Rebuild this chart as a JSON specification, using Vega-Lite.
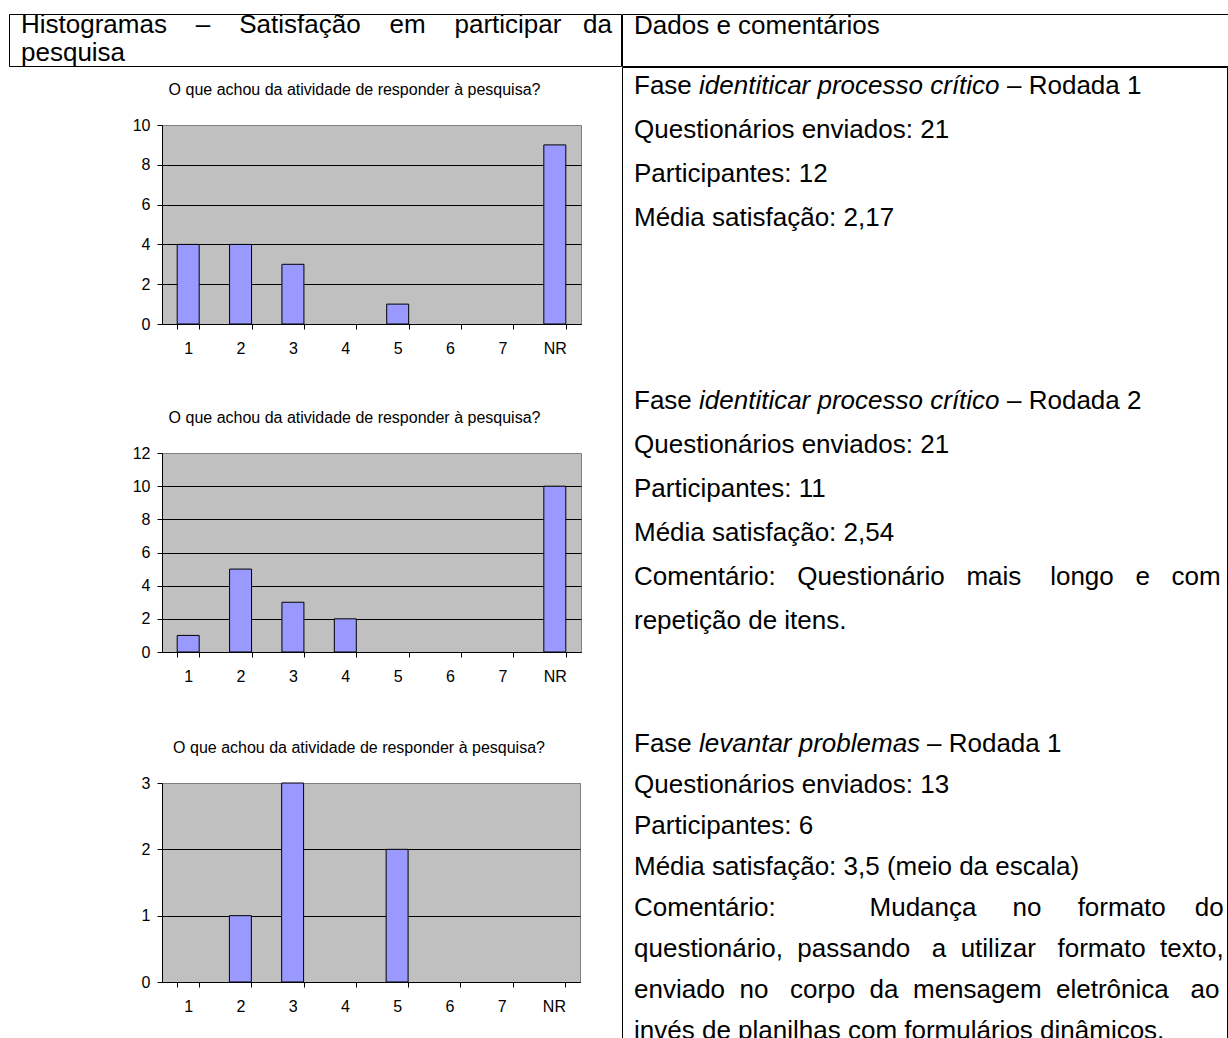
{
  "$schema": "https://vega.github.io/schema/vega-lite/v6.json",
  "padding": {"left": 8, "top": 13, "right": 0, "bottom": 0},
  "background": "white",
  "spacing": -1,
  "config": {
    "view": {"stroke": null},
    "font": "Liberation Sans",
    "title": {"font": "Liberation Sans", "fontWeight": "normal", "color": "black", "fontSize": 16},
    "axis": {"labelFont": "Liberation Sans", "labelColor": "black", "labelFontSize": 16, "domainColor": "black", "tickColor": "black", "tickSize": 5}
  },
  "datasets": {
    "histogramas": [
      {"grafico": 1, "resposta": "1", "frequencia": 4},
      {"grafico": 1, "resposta": "2", "frequencia": 4},
      {"grafico": 1, "resposta": "3", "frequencia": 3},
      {"grafico": 1, "resposta": "4", "frequencia": 0},
      {"grafico": 1, "resposta": "5", "frequencia": 1},
      {"grafico": 1, "resposta": "6", "frequencia": 0},
      {"grafico": 1, "resposta": "7", "frequencia": 0},
      {"grafico": 1, "resposta": "NR", "frequencia": 9},
      {"grafico": 2, "resposta": "1", "frequencia": 1},
      {"grafico": 2, "resposta": "2", "frequencia": 5},
      {"grafico": 2, "resposta": "3", "frequencia": 3},
      {"grafico": 2, "resposta": "4", "frequencia": 2},
      {"grafico": 2, "resposta": "5", "frequencia": 0},
      {"grafico": 2, "resposta": "6", "frequencia": 0},
      {"grafico": 2, "resposta": "7", "frequencia": 0},
      {"grafico": 2, "resposta": "NR", "frequencia": 10},
      {"grafico": 3, "resposta": "1", "frequencia": 0},
      {"grafico": 3, "resposta": "2", "frequencia": 1},
      {"grafico": 3, "resposta": "3", "frequencia": 3},
      {"grafico": 3, "resposta": "4", "frequencia": 0},
      {"grafico": 3, "resposta": "5", "frequencia": 2},
      {"grafico": 3, "resposta": "6", "frequencia": 0},
      {"grafico": 3, "resposta": "7", "frequencia": 0},
      {"grafico": 3, "resposta": "NR", "frequencia": 0}
    ],
    "comentarios": [
      {"linha": 1, "secao": 1, "parte": "texto", "texto": "Fase"},
      {"linha": 1, "secao": 1, "parte": "fase", "texto": "identiticar processo crítico"},
      {"linha": 1, "secao": 1, "parte": "rodada", "texto": "– Rodada 1"},
      {"linha": 2, "secao": 1, "parte": "texto", "texto": "Questionários enviados: 21"},
      {"linha": 3, "secao": 1, "parte": "texto", "texto": "Participantes: 12"},
      {"linha": 4, "secao": 1, "parte": "texto", "texto": "Média satisfação: 2,17"},
      {"linha": 8, "secao": 2, "parte": "texto", "texto": "Fase"},
      {"linha": 8, "secao": 2, "parte": "fase", "texto": "identiticar processo crítico"},
      {"linha": 8, "secao": 2, "parte": "rodada", "texto": "– Rodada 2"},
      {"linha": 9, "secao": 2, "parte": "texto", "texto": "Questionários enviados: 21"},
      {"linha": 10, "secao": 2, "parte": "texto", "texto": "Participantes: 11"},
      {"linha": 11, "secao": 2, "parte": "texto", "texto": "Média satisfação: 2,54"},
      {"linha": 12, "secao": 2, "parte": "texto", "texto": "Comentário:\u00a0\u00a0\u00a0Questionário\u00a0\u00a0\u00a0mais\u00a0\u00a0\u00a0\u00a0longo\u00a0\u00a0\u00a0e\u00a0\u00a0\u00a0com"},
      {"linha": 13, "secao": 2, "parte": "texto", "texto": "repetição de itens."},
      {"linha": 16, "secao": 3, "parte": "texto", "texto": "Fase"},
      {"linha": 16, "secao": 3, "parte": "fase", "texto": "levantar problemas"},
      {"linha": 16, "secao": 3, "parte": "rodada", "texto": "– Rodada 1"},
      {"linha": 17, "secao": 3, "parte": "texto", "texto": "Questionários enviados: 13"},
      {"linha": 18, "secao": 3, "parte": "texto", "texto": "Participantes: 6"},
      {"linha": 19, "secao": 3, "parte": "texto", "texto": "Média satisfação: 3,5 (meio da escala)"},
      {"linha": 20, "secao": 3, "parte": "texto", "texto": "Comentário:\u00a0\u00a0\u00a0\u00a0\u00a0\u00a0\u00a0\u00a0\u00a0\u00a0\u00a0\u00a0\u00a0Mudança\u00a0\u00a0\u00a0\u00a0\u00a0no\u00a0\u00a0\u00a0\u00a0\u00a0formato\u00a0\u00a0\u00a0\u00a0do"},
      {"linha": 21, "secao": 3, "parte": "texto", "texto": "questionário,\u00a0\u00a0passando\u00a0\u00a0\u00a0a\u00a0\u00a0utilizar\u00a0\u00a0\u00a0formato\u00a0\u00a0texto,"},
      {"linha": 22, "secao": 3, "parte": "texto", "texto": "enviado\u00a0\u00a0no\u00a0\u00a0\u00a0corpo\u00a0\u00a0da\u00a0\u00a0mensagem\u00a0\u00a0eletrônica\u00a0\u00a0\u00a0ao"},
      {"linha": 23, "secao": 3, "parte": "texto", "texto": "invés de planilhas com formulários dinâmicos."}
    ]
  },
  "vconcat": [
    {
      "spacing": -1,
      "hconcat": [
        {
          "width": 612,
          "height": 52,
          "view": {"stroke": "black", "strokeWidth": 1},
          "data": {"values": [{"texto": "Histogramas\u00a0\u00a0\u00a0\u00a0–\u00a0\u00a0\u00a0\u00a0Satisfação\u00a0\u00a0\u00a0\u00a0em\u00a0\u00a0\u00a0\u00a0participar\u00a0\u00a0\u00a0da\npesquisa"}]},
          "mark": {"type": "text", "align": "left", "baseline": "top", "x": 0, "y": 0, "dx": 12, "dy": -2, "fontSize": 26, "lineBreak": "\n", "lineHeight": 28, "color": "black", "clip": true},
          "encoding": {"text": {"field": "texto"}}
        },
        {
          "width": 607,
          "height": 52,
          "view": {"stroke": "black", "strokeWidth": 1},
          "data": {"values": [{"texto": "Dados e comentários"}]},
          "mark": {"type": "text", "align": "left", "baseline": "top", "x": 0, "y": 0, "dx": 12, "dy": -1, "fontSize": 26, "color": "black", "clip": true},
          "encoding": {"text": {"field": "texto"}}
        }
      ]
    },
    {
      "spacing": 0,
      "hconcat": [
        {"width": 122, "height": 10, "data": {"values": []}, "mark": "point"},
        {
          "spacing": 0,
          "vconcat": [
            {"width": 10, "height": 14, "data": {"values": []}, "mark": "point"},
            {
              "width": 419,
              "height": 199,
              "data": {"name": "histogramas"},
              "transform": [{"filter": "datum.grafico == 1"}, {"filter": "datum.frequencia > 0"}],
              "title": {"text": "O que achou da atividade de responder à pesquisa?", "baseline": "middle", "offset": 11, "dx": -17},
              "view": {"fill": "#c0c0c0", "stroke": "#808080"},
              "mark": {"type": "bar", "fill": "#9999ff", "stroke": "black", "strokeWidth": 1},
              "encoding": {
                "x": {"field": "resposta", "type": "ordinal", "scale": {"domain": ["1", "2", "3", "4", "5", "6", "7", "NR"], "paddingInner": 0.58, "paddingOuter": 0.29}, "axis": {"title": null, "labelAngle": 0, "tickBand": "extent", "grid": false, "labelPadding": 11}},
                "y": {"field": "frequencia", "type": "quantitative", "scale": {"domain": [0, 10], "nice": false}, "axis": {"title": null, "values": [0, 2, 4, 6, 8, 10], "grid": true, "gridColor": {"condition": {"test": "datum.value == 10", "value": "#808080"}, "value": "black"}, "labelPadding": 7}}
              }
            },
            {"width": 10, "height": 52, "data": {"values": []}, "mark": "point"},
            {
              "width": 419,
              "height": 199,
              "data": {"name": "histogramas"},
              "transform": [{"filter": "datum.grafico == 2"}, {"filter": "datum.frequencia > 0"}],
              "title": {"text": "O que achou da atividade de responder à pesquisa?", "baseline": "middle", "offset": 11, "dx": -17},
              "view": {"fill": "#c0c0c0", "stroke": "#808080"},
              "mark": {"type": "bar", "fill": "#9999ff", "stroke": "black", "strokeWidth": 1},
              "encoding": {
                "x": {"field": "resposta", "type": "ordinal", "scale": {"domain": ["1", "2", "3", "4", "5", "6", "7", "NR"], "paddingInner": 0.58, "paddingOuter": 0.29}, "axis": {"title": null, "labelAngle": 0, "tickBand": "extent", "grid": false, "labelPadding": 11}},
                "y": {"field": "frequencia", "type": "quantitative", "scale": {"domain": [0, 12], "nice": false}, "axis": {"title": null, "values": [0, 2, 4, 6, 8, 10, 12], "grid": true, "gridColor": {"condition": {"test": "datum.value == 12", "value": "#808080"}, "value": "black"}, "labelPadding": 7}}
              }
            },
            {"width": 10, "height": 54, "data": {"values": []}, "mark": "point"},
            {
              "width": 418,
              "height": 199,
              "data": {"name": "histogramas"},
              "transform": [{"filter": "datum.grafico == 3"}, {"filter": "datum.frequencia > 0"}],
              "title": {"text": "O que achou da atividade de responder à pesquisa?", "baseline": "middle", "offset": 11, "dx": -12},
              "view": {"fill": "#c0c0c0", "stroke": "#808080"},
              "mark": {"type": "bar", "fill": "#9999ff", "stroke": "black", "strokeWidth": 1},
              "encoding": {
                "x": {"field": "resposta", "type": "ordinal", "scale": {"domain": ["1", "2", "3", "4", "5", "6", "7", "NR"], "paddingInner": 0.58, "paddingOuter": 0.29}, "axis": {"title": null, "labelAngle": 0, "tickBand": "extent", "grid": false, "labelPadding": 11}},
                "y": {"field": "frequencia", "type": "quantitative", "scale": {"domain": [0, 3], "nice": false}, "axis": {"title": null, "values": [0, 1, 2, 3], "grid": true, "gridColor": {"condition": {"test": "datum.value == 3", "value": "#808080"}, "value": "black"}, "labelPadding": 7}}
              }
            }
          ]
        },
        {"width": 39, "height": 10, "data": {"values": []}, "mark": "point"},
        {
          "width": 605,
          "height": 971,
          "view": {"stroke": "black", "strokeWidth": 1},
          "data": {"name": "comentarios"},
          "encoding": {"text": {"field": "texto"}},
          "resolve": {"scale": {"y": "independent"}},
          "layer": [
            {
              "transform": [{"filter": "datum.secao == 1"}],
              "encoding": {"y": {"field": "linha", "type": "quantitative", "scale": {"domain": [0.557, 22.625], "reverse": true, "nice": false, "zero": false}, "axis": null}},
              "layer": [
                {"transform": [{"filter": "datum.parte == 'texto'"}], "mark": {"type": "text", "align": "left", "baseline": "middle", "x": 0, "dx": 12, "fontSize": 26, "color": "black", "clip": true}},
                {"transform": [{"filter": "datum.parte == 'fase'"}], "mark": {"type": "text", "align": "left", "baseline": "middle", "x": 0, "dx": 77, "fontSize": 26, "fontStyle": "italic", "color": "black", "clip": true}},
                {"transform": [{"filter": "datum.parte == 'rodada'"}], "mark": {"type": "text", "align": "left", "baseline": "middle", "x": 0, "dx": 385, "fontSize": 26, "color": "black", "clip": true}}
              ]
            },
            {
              "transform": [{"filter": "datum.secao == 2"}],
              "encoding": {"y": {"field": "linha", "type": "quantitative", "scale": {"domain": [0.42, 22.488], "reverse": true, "nice": false, "zero": false}, "axis": null}},
              "layer": [
                {"transform": [{"filter": "datum.parte == 'texto'"}], "mark": {"type": "text", "align": "left", "baseline": "middle", "x": 0, "dx": 12, "fontSize": 26, "color": "black", "clip": true}},
                {"transform": [{"filter": "datum.parte == 'fase'"}], "mark": {"type": "text", "align": "left", "baseline": "middle", "x": 0, "dx": 77, "fontSize": 26, "fontStyle": "italic", "color": "black", "clip": true}},
                {"transform": [{"filter": "datum.parte == 'rodada'"}], "mark": {"type": "text", "align": "left", "baseline": "middle", "x": 0, "dx": 385, "fontSize": 26, "color": "black", "clip": true}}
              ]
            },
            {
              "transform": [{"filter": "datum.secao == 3"}],
              "encoding": {"y": {"field": "linha", "type": "quantitative", "scale": {"domain": [-0.524, 23.159], "reverse": true, "nice": false, "zero": false}, "axis": null}},
              "layer": [
                {"transform": [{"filter": "datum.parte == 'texto'"}], "mark": {"type": "text", "align": "left", "baseline": "middle", "x": 0, "dx": 12, "fontSize": 26, "color": "black", "clip": true}},
                {"transform": [{"filter": "datum.parte == 'fase'"}], "mark": {"type": "text", "align": "left", "baseline": "middle", "x": 0, "dx": 77, "fontSize": 26, "fontStyle": "italic", "color": "black", "clip": true}},
                {"transform": [{"filter": "datum.parte == 'rodada'"}], "mark": {"type": "text", "align": "left", "baseline": "middle", "x": 0, "dx": 305, "fontSize": 26, "color": "black", "clip": true}}
              ]
            }
          ]
        }
      ]
    }
  ]
}
